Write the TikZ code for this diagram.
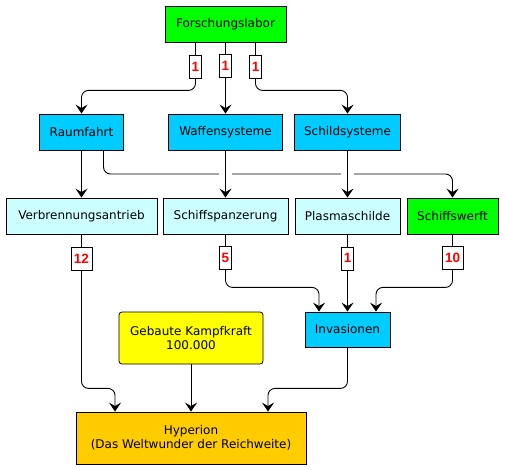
\documentclass[tikz,border=0pt]{standalone}
\usepackage{fontspec}
\setmainfont{DejaVu Sans}
\newfontfamily\lblfont{Liberation Sans}
\usetikzlibrary{arrows.meta,calc}
\definecolor{cgreen}{HTML}{00FF00}
\definecolor{cblue}{HTML}{00CCFF}
\definecolor{ccyan}{HTML}{CCFFFF}
\definecolor{cyell}{HTML}{FFFF00}
\definecolor{corange}{HTML}{FFCC00}
\tikzset{
  box/.style={draw=black, line width=0.8pt, minimum height=36pt, inner sep=0pt, font=\fontsize{12}{14}\selectfont, text=black},
  lbl/.style={draw=black, fill=white, sharp corners, line width=0.6pt, minimum height=23pt, minimum width=12.5pt, inner sep=1pt, font=\lblfont\bfseries\fontsize{13.5}{14}\selectfont, text=red},
  arr/.style={line width=0.9pt, draw=black, -{Stealth[length=9pt,width=12pt,inset=3.5pt]}, rounded corners=7pt}
}
\begin{document}
\begin{tikzpicture}[x=1pt,y=-1pt]
\useasboundingbox (0,0) rectangle (505,470);
\fill[white] (0,0) rectangle (505,470);
% nodes
\node[box, fill=cgreen, minimum width=121pt] (fl) at (225.5,24) {Forschungslabor};
\node[box, fill=cblue, minimum width=84pt] (raum) at (81.5,132) {Raumfahrt};
\node[box, fill=cblue, minimum width=114pt] (waf) at (225.5,132) {Waffensysteme};
\node[box, fill=cblue, minimum width=106pt] (schild) at (347.5,132) {Schildsysteme};
\node[box, fill=ccyan, minimum width=151pt] (verb) at (81.5,216) {Verbrennungsantrieb};
\node[box, fill=ccyan, minimum width=125pt] (panz) at (225.5,216) {Schiffspanzerung};
\node[box, fill=ccyan, minimum width=105pt] (plasma) at (347.5,216) {Plasmaschilde};
\node[box, fill=cgreen, minimum width=91pt] (werft) at (452.5,216) {Schiffswerft};
\node[box, fill=cblue, minimum width=85pt, minimum height=35pt] (inv) at (347.5,329.5) {Invasionen};
\node[box, fill=cyell, minimum width=144pt, minimum height=52pt, rounded corners=3pt, align=center] (geb) at (191,338) {Gebaute Kampfkraft\\100.000};
\node[box, fill=corange, minimum width=230pt, minimum height=52pt, align=center] (hyp) at (191,438) {Hyperion\\(Das Weltwunder der Reichweite)};
% row 1 connectors
\draw[arr] ($(fl.south)+(-30,0)$) -- node[lbl]{1} ($(fl.south)+(-30,48)$) -| (raum.north);
\draw[arr] (fl.south) -- node[lbl, pos=0.33]{1} (waf.north);
\draw[arr] ($(fl.south)+(30,0)$) -- node[lbl]{1} ($(fl.south)+(30,48)$) -| (schild.north);
% raumfahrt to schiffswerft with line jumps
\coordinate (jy) at (0,174);
\coordinate (rs) at ($(raum.south)+(22,0)$);
\draw[arr] (rs) -- (rs |- jy) -- (werft.north |- jy) -- (werft.north);
\fill[white] ($(waf.south |- jy)+(-6.5,-2)$) rectangle ++(13,4);
\fill[white] ($(schild.south |- jy)+(-6.5,-2)$) rectangle ++(13,4);
% row 2 connectors
\draw[arr] (raum.south) -- (verb.north);
\draw[arr] (waf.south) -- (panz.north);
\draw[arr] (schild.south) -- (plasma.north);
% row 3 connectors
\draw[arr] (verb.south) -- node[lbl, pos=0.156, minimum width=21pt]{12} ($(verb.south)+(0,154)$) -| ($(hyp.north)+(-76,0)$);
\draw[arr] (panz.south) -- node[lbl, pos=0.45]{5} ($(panz.south)+(0,53)$) -| ($(inv.north)+(-28.5,0)$);
\draw[arr] (plasma.south) -- node[lbl, pos=0.31]{1} (inv.north);
\draw[arr] (werft.south) -- node[lbl, pos=0.45, minimum width=21pt]{10} ($(werft.south)+(0,53)$) -| ($(inv.north)+(28.5,0)$);
\draw[arr] (geb.south) -- (hyp.north);
\draw[arr] (inv.south) -- ($(inv.south)+(0,41)$) -| ($(hyp.north)+(77,0)$);
\end{tikzpicture}
\end{document}
